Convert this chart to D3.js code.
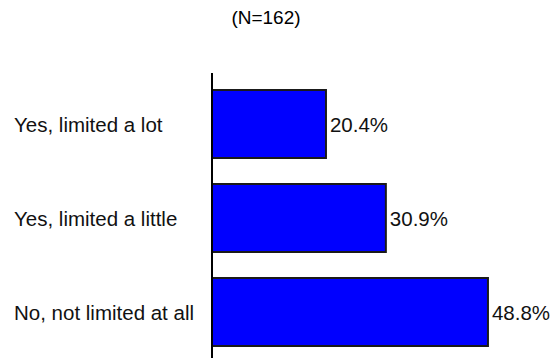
<!DOCTYPE html>
<html><head><meta charset="utf-8">
<script src="https://cdn.jsdelivr.net/npm/d3@7"></script>
<style>body{margin:0;background:#fff}svg{display:block}text{font-family:"Liberation Sans",Arial,sans-serif}</style>
</head><body><svg id="c" width="559" height="358"></svg>
<script>
const categories = ["Yes, limited a lot", "Yes, limited a little", "No, not limited at all"];
const values = [20.4, 30.9, 48.8];
const valueLabels = ["20.4%", "30.9%", "48.8%"];
const title = "(N=162)";

const svg = d3.select("#c");
const axisX = 212;
const x = d3.scaleLinear().domain([0, 100]).range([209.6, 780]);
const y = d3.scaleBand().domain(categories).range([90, 346]).paddingInner(0.2766).paddingOuter(0);

svg.append("text").attr("x", 266).attr("y", 24).attr("text-anchor", "middle")
  .attr("font-size", 19).attr("fill", "#000").text(title);

svg.selectAll("rect.bar").data(values).join("rect").attr("class", "bar")
  .attr("x", axisX).attr("y", (d, i) => y(categories[i]))
  .attr("width", d => x(d) - axisX).attr("height", y.bandwidth())
  .attr("fill", "#0000ff").attr("stroke", "#1a1a1a").attr("stroke-width", 2);

svg.append("line").attr("x1", axisX).attr("x2", axisX)
  .attr("y1", y.range()[0] - 17).attr("y2", 358)
  .attr("stroke", "#000").attr("stroke-width", 2);

svg.selectAll("text.cat").data(categories).join("text").attr("class", "cat")
  .attr("x", 14).attr("y", d => y(d) + y.bandwidth() / 2).attr("dy", "0.38em")
  .attr("font-size", 20.5).attr("fill", "#111").text(d => d);

svg.selectAll("text.val").data(values).join("text").attr("class", "val")
  .attr("x", d => x(d) + 4).attr("y", (d, i) => y(categories[i]) + y.bandwidth() / 2).attr("dy", "0.38em")
  .attr("font-size", 20.5).attr("fill", "#111").text((d, i) => valueLabels[i]);
</script></body></html>
